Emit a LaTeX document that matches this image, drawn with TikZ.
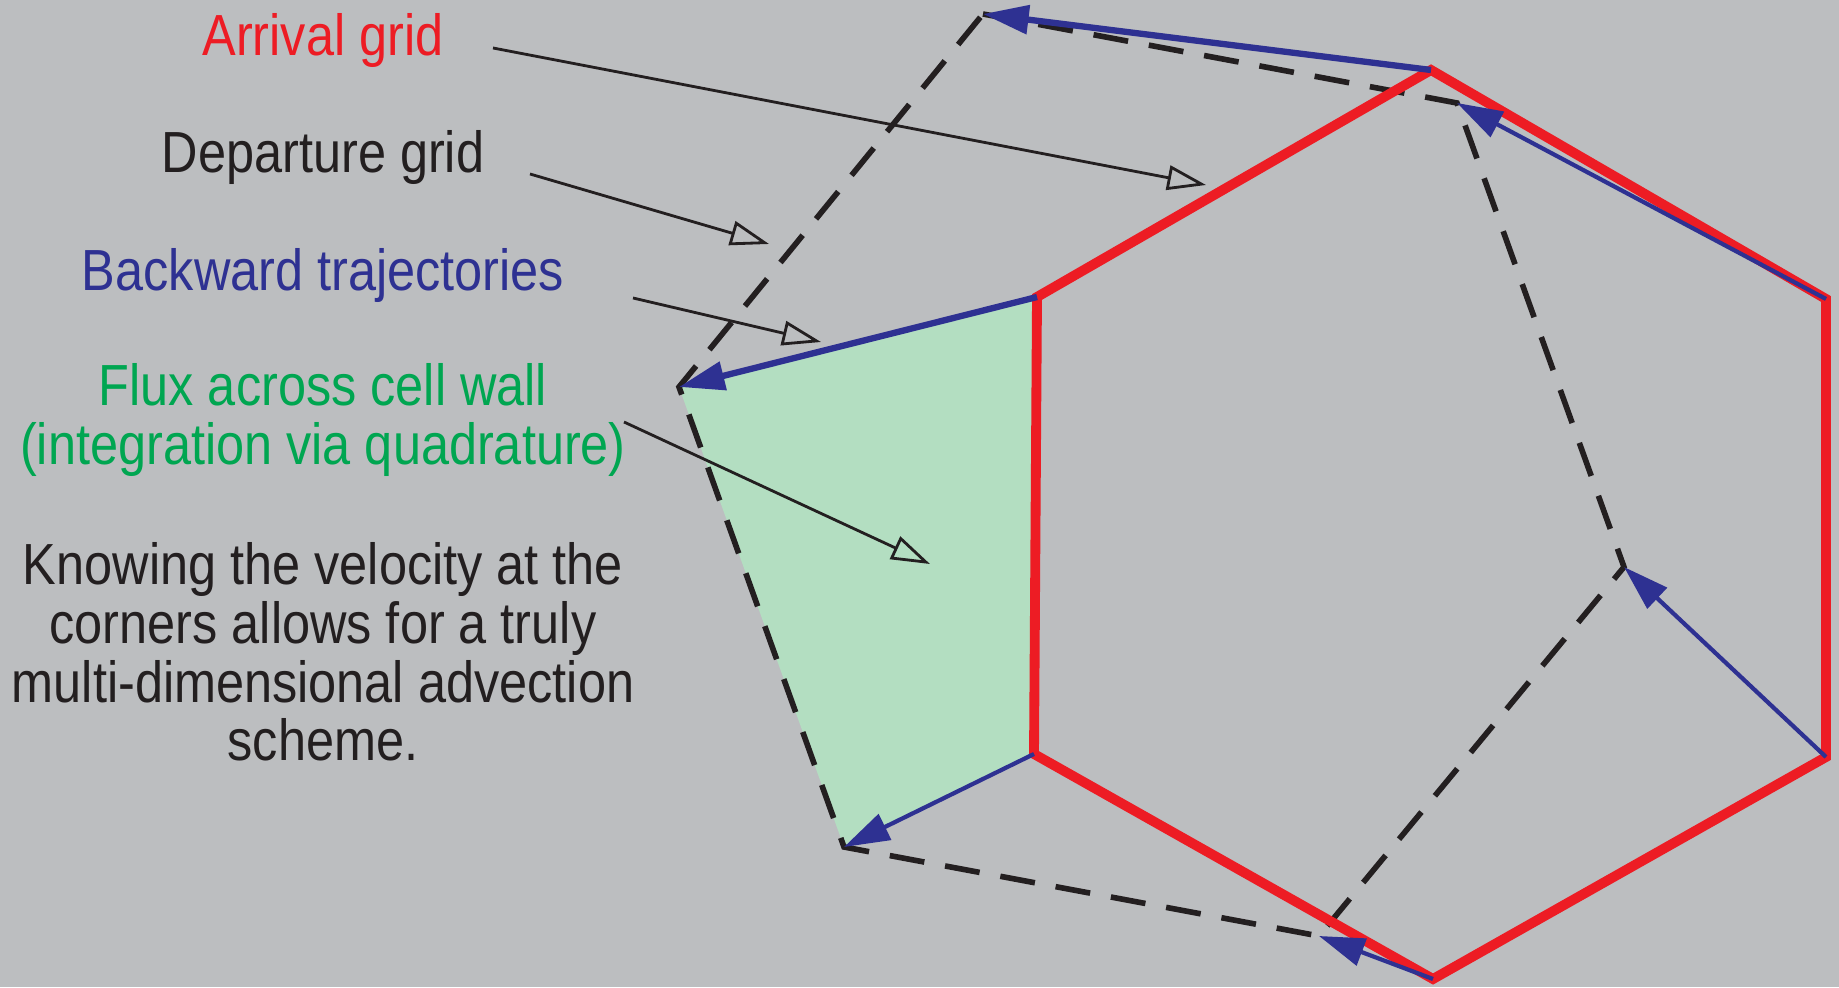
\documentclass[tikz,border=0pt]{standalone}
\usepackage{fontspec}
\setmainfont{Liberation Sans}[FakeStretch=0.87]
\definecolor{GridRed}{RGB}{237, 28, 36}
\definecolor{TrajBlue}{RGB}{46, 49, 146}
\definecolor{FluxGreen}{RGB}{0, 166, 81}
\definecolor{FluxFill}{RGB}{179, 222, 193}
\definecolor{InkBlack}{RGB}{35, 31, 32}
\definecolor{BackGray}{RGB}{188, 190, 192}
\usetikzlibrary{arrows.meta, calc}
\tikzset{
  arrgrid/.style={draw=GridRed, line width=2.8pt, line join=miter},
  depgrid/.style={draw=InkBlack, line width=1.6pt, dash pattern=on 10pt off 6pt},
  traj/.style={-{Triangle[length=13pt, width=8pt]}, draw=TrajBlue,
               fill=TrajBlue, line width=#1},
  traj/.default=1.2pt,
  lbl/.style={font=\fontsize{16.5}{16.7}\selectfont, text=#1, align=center},
  pointer/.style={-{Triangle[open, length=11pt, width=7pt]}, draw=InkBlack,
                  line width=0.8pt},
}

\begin{document}
\begin{tikzpicture}
  \fill[BackGray] (0,0) rectangle (18.39,9.87);
  \useasboundingbox (0,0) rectangle (18.39,9.87);

  % arrival cell corners
  \coordinate (a1) at (14.31,9.17);
  \coordinate (a2) at (18.26,6.88);
  \coordinate (a3) at (18.26,2.30);
  \coordinate (a4) at (14.33,0.08);
  \coordinate (a5) at (10.34,2.33);
  \coordinate (a6) at (10.37,6.90);
  % departure cell corners
  \coordinate (d1) at (9.83,9.73);
  \coordinate (d2) at (14.57,8.84);
  \coordinate (d3) at (16.24,4.20);
  \coordinate (d4) at (13.19,0.51);
  \coordinate (d5) at (8.44,1.40);
  \coordinate (d6) at (6.79,6.00);

  % swept area
  \fill[FluxFill] (a6) -- (d6) -- (d5) -- (a5) -- cycle;

  \draw[depgrid] (d1) -- (d2) -- (d3) -- (d4) -- (d5) -- (d6) -- cycle;
  \draw[arrgrid] (a1) -- (a2) -- (a3) -- (a4) -- (a5) -- (a6) -- cycle;

  \draw[traj=1.8pt] (a1) -- (d1);
  \draw[traj] (a2) -- (d2);
  \draw[traj] (a3) -- (d3);
  \draw[traj] (a4) -- (d4);
  \draw[traj] (a5) -- (d5);
  \draw[traj=1.8pt] (a6) -- (d6);

  % labels
  \node[lbl=GridRed] (arrlbl) at (3.23,9.46) {Arrival grid};
  \node[lbl=InkBlack] (deplbl) at (3.23,8.29) {Departure grid};
  \node[lbl=TrajBlue] (trajlbl) at (3.23,7.11) {Backward trajectories};
  \node[lbl=FluxGreen] (fluxlbl) at (3.23,5.67)
    {Flux across cell wall\\(integration via quadrature)};
  \node[lbl=InkBlack] (note) at (3.23,3.35)
    {Knowing the velocity at the\\corners allows for a truly\\
     multi-dimensional advection\\scheme.};

  \coordinate (p1s) at (4.93,9.39);
  \coordinate (p1e) at (12.06,8.02);
  \coordinate (p2s) at (5.30,8.13);
  \coordinate (p2e) at (7.69,7.43);
  \coordinate (p3s) at (6.33,6.89);
  \coordinate (p3e) at (8.21,6.45);
  \coordinate (p4s) at (6.24,5.65);
  \coordinate (p4e) at (9.30,4.23);
  \draw[pointer] (p1s) -- (p1e);
  \draw[pointer] (p2s) -- (p2e);
  \draw[pointer] (p3s) -- (p3e);
  \draw[pointer] (p4s) -- (p4e);
\end{tikzpicture}
\end{document}
